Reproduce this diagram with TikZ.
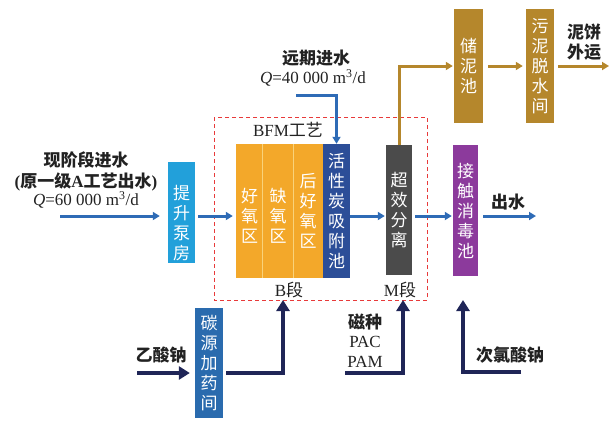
\documentclass[tikz,border=0pt]{standalone}
\usepackage{fontspec}
\setmainfont{Liberation Serif}
\newfontfamily\cjk{Noto Sans CJK SC}
\usetikzlibrary{arrows.meta}
\definecolor{pumpblue}{HTML}{22A0DA}
\definecolor{yel}{HTML}{F3A82A}
\definecolor{yelline}{HTML}{F9D27A}
\definecolor{carbon}{HTML}{2C4E98}
\definecolor{sepgray}{HTML}{4B4B4B}
\definecolor{purp}{HTML}{8C3A9C}
\definecolor{sludge}{HTML}{B5872C}
\definecolor{dosblue}{HTML}{2A6BAE}
\definecolor{flowblue}{HTML}{2E6BB6}
\definecolor{navy}{HTML}{1F2557}
\definecolor{dashred}{HTML}{E83A3A}
\definecolor{txt}{HTML}{222222}
\tikzset{
  proc/.style={rectangle, inner sep=0pt, text=white, align=center,
    font=\fontsize{17}{20}\selectfont\cjk},
  flow/.style={draw=flowblue, line width=3pt, -{Triangle[length=7pt,width=8pt]}},
  sl/.style={draw=sludge, line width=3pt, -{Triangle[length=7pt,width=8pt]}},
  dose/.style={draw=navy, line width=4pt, -{Triangle[length=11pt,width=13pt]}},
  lbl/.style={text=txt, align=center, inner sep=0pt, font=\fontsize{17}{20}\selectfont},
}
\begin{document}
\begin{tikzpicture}[x=1pt,y=-1pt]
\useasboundingbox (0,0) rectangle (609,421);
% dashed BFM frame
\draw[dashred, line width=0.8pt, dash pattern=on 4pt off 3pt] (214,117) rectangle (427,300);
% boxes
\node[proc, fill=pumpblue, minimum width=27, minimum height=101,
  label={[proc, yshift=-11pt]center:提\\升\\泵\\房}] (pump) at (181.5,212.5) {};
\node[proc, fill=yel, minimum width=27, minimum height=134] (aer1) at (249.5,211) {\\[4pt]好\\氧\\区};
\node[proc, fill=yel, minimum width=30, minimum height=134] (anox) at (278,211) {\\[4pt]缺\\氧\\区};
\node[proc, fill=yel, minimum width=30, minimum height=134] (aer2) at (308,211) {后\\好\\氧\\区};
\draw[yelline, line width=0.8pt] (anox.north west) -- (anox.south west) (anox.north east) -- (anox.south east);
\node[proc, fill=carbon, minimum width=27, minimum height=134] (carb) at (336.5,211) {活\\性\\炭\\吸\\附\\池};
\node[proc, fill=sepgray, minimum width=26, minimum height=130] (sep) at (399,210) {超\\效\\分\\离};
\node[proc, fill=purp, minimum width=25, minimum height=131] (dis) at (465.5,210.5) {接\\触\\消\\毒\\池};
\node[proc, fill=sludge, minimum width=29, minimum height=114] (tank) at (468.5,66) {储\\泥\\池};
\node[proc, fill=sludge, minimum width=28, minimum height=114] (dew) at (540,66) {污\\泥\\脱\\水\\间};
\node[proc, fill=dosblue, minimum width=28, minimum height=110] (dosing) at (209,363) {碳\\源\\加\\药\\间};
% coordinates
\coordinate (in) at (60,216);
\coordinate (out) at (536,216);
\coordinate (fut) at (296,95);
\coordinate (cake) at (609,66);
\coordinate (ac) at (137,373);
\coordinate (Bin) at (283,300);
\coordinate (ms) at (345,373);
\coordinate (Min) at (403,300);
\coordinate (hs) at (521,372);
\coordinate (Hin) at (463,300);
% main flow
\draw[flow, shorten >=8pt] (in) -- (in -| pump.west);
\draw[flow, shorten <=3pt, shorten >=3pt] (in -| pump.east) -- (in -| aer1.west);
\draw[flow, shorten >=1pt] (in -| carb.east) -- (in -| sep.west);
\draw[flow, shorten <=3pt, shorten >=1pt] (in -| sep.east) -- (in -| dis.west);
\draw[flow, shorten <=5pt] (in -| dis.east) -- (out);
\draw[flow] (fut) -| (carb.north);
% sludge line
\draw[sl, shorten >=1pt] (sep.north -| 399,0) |- (tank.west);
\draw[sl, shorten <=5pt, shorten >=3pt] (tank.east) -- (dew.west);
\draw[sl, shorten <=4pt] (dew.east) -- (cake);
% dosing
\draw[dose, shorten >=5pt] (ac) -- (ac -| dosing.west);
\draw[dose, shorten <=3pt] (ac -| dosing.east) -| (Bin);
\draw[dose] (ms) -| (Min);
\draw[dose] (hs) -| (Hin);
% labels
\node[lbl] (t1) at (86,160) {{\cjk\bfseries 现阶段进水}};
\node[lbl] (t2) at (86,182) {\textbf{(}{\cjk\bfseries 原一级}\textbf{A}{\cjk\bfseries 工艺出水}\textbf{)}};
\node[lbl] (t3) at (86,200) {\textit{Q}=60~000 m\textsuperscript{3}/d};
\node[lbl] (t4) at (316,58) {{\cjk\bfseries 远期进水}};
\node[lbl] (t5) at (313,78) {\textit{Q}=40~000 m\textsuperscript{3}/d};
\node[lbl] (t6) at (288,130) {BFM{\cjk 工艺}};
\node[lbl] (t7) at (289,290) {B{\cjk 段}};
\node[lbl] (t8) at (400,290) {M{\cjk 段}};
\node[lbl] (t9) at (584,42) {{\cjk\bfseries 泥饼}\\{\cjk\bfseries 外运}};
\node[lbl] (t10) at (508,202) {{\cjk\bfseries 出水}};
\node[lbl] (t11) at (161,355) {{\cjk\bfseries 乙酸钠}};
\node[lbl] (t12) at (365,322) {{\cjk\bfseries 磁种}};
\node[lbl] (t13) at (365,342) {PAC};
\node[lbl] (t14) at (365,362) {PAM};
\node[lbl] (t15) at (510,355) {{\cjk\bfseries 次氯酸钠}};
\end{tikzpicture}
\end{document}
